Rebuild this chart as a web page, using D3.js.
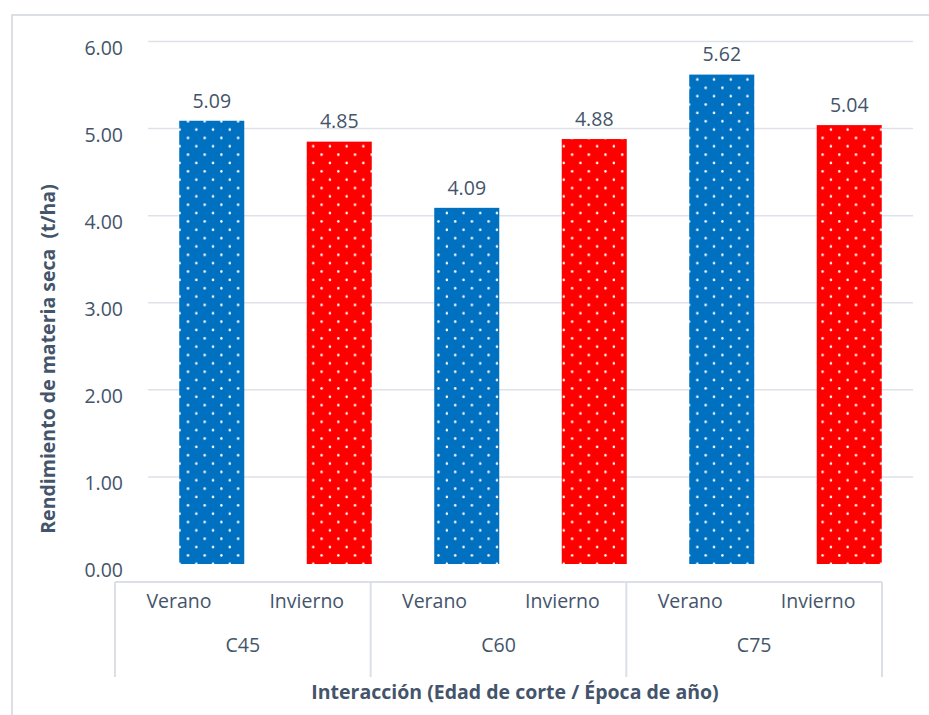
<!DOCTYPE html>
<html>
<head>
<meta charset="utf-8">
<script src="https://cdn.jsdelivr.net/npm/d3@7"></script>
<style>
  html, body { margin: 0; padding: 0; background: #fff; }
  svg text { font-family: "Open Sans", "Noto Sans", sans-serif; fill: #44546A; }
</style>
</head>
<body>
<div id="chart"></div>
<script>
// Rendimiento de materia seca por edad de corte y época

const groups = ['C45', 'C60', 'C75'];
const seasons = ['Verano', 'Invierno'];
const veranoValues = [5.09, 4.09, 5.62];
const inviernoValues = [4.85, 4.88, 5.04];
const yTicks = [0, 1, 2, 3, 4, 5, 6];

const seasonColors = { Verano: '#0070C0', Invierno: '#FF0000' };

// filas planas: una por barra
const rows = [];
groups.forEach((gName, i) => {
    rows.push({ group: gName, season: 'Verano', value: veranoValues[i] });
    rows.push({ group: gName, season: 'Invierno', value: inviernoValues[i] });
});
rows.forEach(d => d.key = d.group + '|' + d.season);

const width = 929, height = 715;

const svg = d3.select('#chart').append('svg')
    .attr('width', width)
    .attr('height', height);

// patrones de puntos blancos
const defs = svg.append('defs');
seasons.forEach(s => {
    const p = defs.append('pattern')
        .attr('id', 'dots-' + s)
        .attr('patternUnits', 'userSpaceOnUse')
        .attr('width', 16.7)
        .attr('height', 16.7);
    p.append('rect').attr('width', 16.7).attr('height', 16.7).attr('fill', seasonColors[s]);
    p.append('circle').attr('cx', 4.3).attr('cy', 4.3).attr('r', 1.25).attr('fill', '#fff');
    p.append('circle').attr('cx', 12.65).attr('cy', 12.65).attr('r', 1.25).attr('fill', '#fff');
});

// borde exterior (solo arriba e izquierda visibles)
svg.append('path')
    .attr('d', `M12,${height} L12,15 L${width},15`)
    .style('fill', 'none')
    .style('stroke', '#DCDFE8')
    .style('stroke-width', 2);

// escalas
const yScale = d3.scaleLinear().domain([0, 6]).range([564, 41.5]);

const xBars = d3.scaleBand()
    .domain(rows.map(d => d.key))
    .range([148, 913])
    .paddingInner(0.49)
    .paddingOuter(0.245);

const xAxisScale = d3.scaleBand()
    .domain(rows.map(d => d.key))
    .range([115, 882]);

const groupScale = d3.scaleBand()
    .domain(groups)
    .range([115, 882]);

// líneas de cuadrícula
svg.append('g')
    .selectAll('line')
    .data(yTicks.filter(t => t > 0))
    .enter()
    .append('line')
    .attr('x1', 148)
    .attr('x2', 913)
    .attr('y1', d => yScale(d))
    .attr('y2', d => yScale(d))
    .style('stroke', '#DEE1E8')
    .style('stroke-width', 1.5);

// etiquetas del eje Y
svg.append('g')
    .selectAll('text')
    .data(yTicks)
    .enter()
    .append('text')
    .attr('x', 123)
    .attr('y', d => yScale(d) + 6.5)
    .attr('dy', '0.35em')
    .attr('text-anchor', 'end')
    .style('font-size', '19.5px')
    .text(d => d.toFixed(2));

// barras
svg.append('g')
    .selectAll('rect')
    .data(rows)
    .enter()
    .append('rect')
    .attr('x', d => xBars(d.key))
    .attr('width', xBars.bandwidth())
    .attr('y', d => yScale(d.value))
    .attr('height', d => yScale(0) - yScale(d.value))
    .style('fill', d => `url(#dots-${d.season})`);

// etiquetas de valor
svg.append('g')
    .selectAll('text')
    .data(rows)
    .enter()
    .append('text')
    .attr('x', d => xBars(d.key) + xBars.bandwidth() / 2)
    .attr('y', d => yScale(d.value) - 20)
    .attr('dy', '0.35em')
    .attr('text-anchor', 'middle')
    .style('font-size', '19.5px')
    .text(d => d.value.toFixed(2));

// eje de categorías multinivel
const axisTop = 582, axisBottom = 677;
const axisG = svg.append('g');

axisG.append('line')
    .attr('x1', 115).attr('x2', 882)
    .attr('y1', axisTop).attr('y2', axisTop)
    .style('stroke', '#DCDFE8')
    .style('stroke-width', 2);

const separators = groups.map(g => groupScale(g)).concat([groupScale.range()[1]]);
axisG.selectAll('.sep')
    .data(separators)
    .enter()
    .append('line')
    .attr('class', 'sep')
    .attr('x1', d => d).attr('x2', d => d)
    .attr('y1', axisTop).attr('y2', axisBottom)
    .style('stroke', '#DCDFE8')
    .style('stroke-width', 2);

axisG.selectAll('.season-label')
    .data(rows)
    .enter()
    .append('text')
    .attr('class', 'season-label')
    .attr('x', d => xAxisScale(d.key) + xAxisScale.bandwidth() / 2)
    .attr('y', 601)
    .attr('dy', '0.35em')
    .attr('text-anchor', 'middle')
    .style('font-size', '19.5px')
    .text(d => d.season);

axisG.selectAll('.group-label')
    .data(groups)
    .enter()
    .append('text')
    .attr('class', 'group-label')
    .attr('x', d => groupScale(d) + groupScale.bandwidth() / 2)
    .attr('y', 645)
    .attr('dy', '0.35em')
    .attr('text-anchor', 'middle')
    .style('font-size', '19.5px')
    .text(d => d);

// títulos de ejes
svg.append('text')
    .attr('x', 515)
    .attr('y', 692)
    .attr('dy', '0.35em')
    .attr('text-anchor', 'middle')
    .style('font-size', '19.5px')
    .style('font-weight', 'bold')
    .text('Interacción (Edad de corte / Época de año)');

svg.append('text')
    .attr('transform', 'translate(48,359) rotate(-90)')
    .attr('dy', '0.35em')
    .attr('text-anchor', 'middle')
    .style('font-size', '19.5px')
    .style('font-weight', 'bold')
    .style('white-space', 'pre')
    .text('Rendimiento de materia seca  (t/ha)');
</script>
</body>
</html>
